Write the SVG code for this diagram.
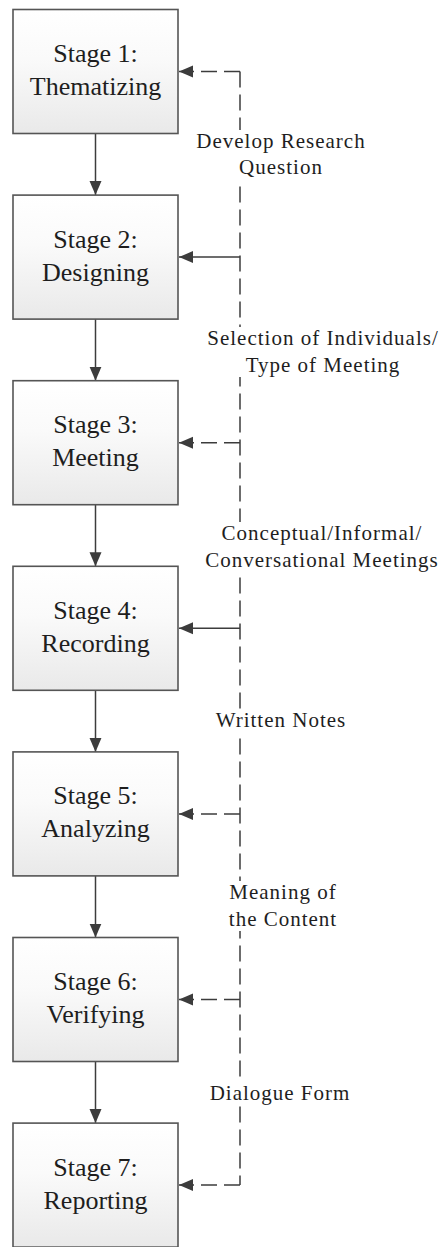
<svg xmlns="http://www.w3.org/2000/svg" width="440" height="1247" viewBox="0 0 440 1247">
<defs>
<linearGradient id="boxfill" x1="0" y1="0" x2="0" y2="1">
<stop offset="0" stop-color="#ffffff"/>
<stop offset="0.4" stop-color="#fafafa"/>
<stop offset="1" stop-color="#e9e9e9"/>
</linearGradient>
<marker id="arr" markerUnits="userSpaceOnUse" markerWidth="14" markerHeight="14" viewBox="0 0 14 12" refX="14" refY="6" orient="auto">
<path d="M0,0 L14,6 L0,12 Z" fill="#3c3c3c"/>
</marker>
<style>
.box{fill:url(#boxfill);stroke:#555555;stroke-width:1.6}
.bt{font-family:"Liberation Serif","Times New Roman",serif;font-size:26px;fill:#1e1e1e;text-anchor:middle}
.lt{font-family:"Liberation Serif","Times New Roman",serif;font-size:21px;letter-spacing:1px;fill:#1e1e1e;text-anchor:middle}
.solid{stroke:#3c3c3c;stroke-width:1.5;fill:none}
.dash{stroke:#3c3c3c;stroke-width:1.5;fill:none;stroke-dasharray:16 7}
.bg{fill:#ffffff}
</style>
</defs>
<rect width="440" height="1247" fill="#ffffff"/>

<g id="connectors">
<path class="solid" d="M95.5,133.5 V195" marker-end="url(#arr)"/>
<path class="solid" d="M95.5,319.1 V380.7" marker-end="url(#arr)"/>
<path class="solid" d="M95.5,504.7 V566.3" marker-end="url(#arr)"/>
<path class="solid" d="M95.5,690.3 V751.9" marker-end="url(#arr)"/>
<path class="solid" d="M95.5,875.9 V937.5" marker-end="url(#arr)"/>
<path class="solid" d="M95.5,1061.5 V1123.1" marker-end="url(#arr)"/>
<path class="dash" d="M240,71.5 V1185.1"/>
<path class="dash" d="M240,71.5 H179" marker-end="url(#arr)"/>
<path class="solid" d="M240,257.1 H179" marker-end="url(#arr)"/>
<path class="dash" d="M240,442.7 H179" marker-end="url(#arr)"/>
<path class="solid" d="M240,628.3 H179" marker-end="url(#arr)"/>
<path class="dash" d="M240,813.9 H179" marker-end="url(#arr)"/>
<path class="dash" d="M240,999.5 H179" marker-end="url(#arr)"/>
<path class="dash" d="M240,1185.1 H179" marker-end="url(#arr)"/>
</g>

<g id="labels">
<g id="label-1">
<rect class="bg" x="195" y="130" width="173" height="50"/>
<text class="lt" x="281" y="148">Develop Research</text>
<text class="lt" x="281" y="174">Question</text>
</g>
<g id="label-2">
<rect class="bg" x="206" y="327" width="234" height="50"/>
<text class="lt" x="323" y="345">Selection of Individuals/</text>
<text class="lt" x="323" y="372">Type of Meeting</text>
</g>
<g id="label-3">
<rect class="bg" x="205" y="522" width="235" height="50"/>
<text class="lt" x="322" y="540">Conceptual/Informal/</text>
<text class="lt" x="322" y="567">Conversational Meetings</text>
</g>
<g id="label-4">
<rect class="bg" x="214" y="709" width="134" height="24"/>
<text class="lt" x="281" y="727">Written Notes</text>
</g>
<g id="label-5">
<rect class="bg" x="226" y="881" width="114" height="50"/>
<text class="lt" x="283" y="899">Meaning of</text>
<text class="lt" x="283" y="926">the Content</text>
</g>
<g id="label-6">
<rect class="bg" x="209" y="1082" width="142" height="24"/>
<text class="lt" x="280" y="1100">Dialogue Form</text>
</g>
</g>

<g id="stage-1">
<rect class="box" x="13" y="9.5" width="165" height="124"/>
<text class="bt" x="95.5" y="62">Stage 1:</text>
<text class="bt" x="95.5" y="95">Thematizing</text>
</g>
<g id="stage-2">
<rect class="box" x="13" y="195.1" width="165" height="124"/>
<text class="bt" x="95.5" y="247.6">Stage 2:</text>
<text class="bt" x="95.5" y="280.6">Designing</text>
</g>
<g id="stage-3">
<rect class="box" x="13" y="380.7" width="165" height="124"/>
<text class="bt" x="95.5" y="433.2">Stage 3:</text>
<text class="bt" x="95.5" y="466.2">Meeting</text>
</g>
<g id="stage-4">
<rect class="box" x="13" y="566.3" width="165" height="124"/>
<text class="bt" x="95.5" y="618.8">Stage 4:</text>
<text class="bt" x="95.5" y="651.8">Recording</text>
</g>
<g id="stage-5">
<rect class="box" x="13" y="751.9" width="165" height="124"/>
<text class="bt" x="95.5" y="804.4">Stage 5:</text>
<text class="bt" x="95.5" y="837.4">Analyzing</text>
</g>
<g id="stage-6">
<rect class="box" x="13" y="937.5" width="165" height="124"/>
<text class="bt" x="95.5" y="990">Stage 6:</text>
<text class="bt" x="95.5" y="1023">Verifying</text>
</g>
<g id="stage-7">
<rect class="box" x="13" y="1123.1" width="165" height="124"/>
<text class="bt" x="95.5" y="1175.6">Stage 7:</text>
<text class="bt" x="95.5" y="1208.6">Reporting</text>
</g>
</svg>
